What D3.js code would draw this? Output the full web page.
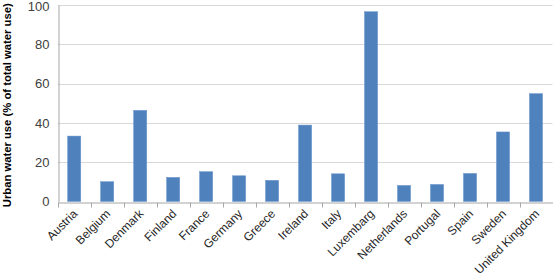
<!DOCTYPE html>
<html><head><meta charset="utf-8">
<script src="https://cdn.jsdelivr.net/npm/d3@7"></script>
<style>body{margin:0;background:#fff;} text{font-family:"Liberation Sans","Open Sans",sans-serif;}</style>
</head><body>
<svg id="c" width="553" height="276"></svg>
<script>
const categories = ["Austria","Belgium","Denmark","Finland","France","Germany","Greece","Ireland","Italy","Luxembarg","Netherlands","Portugal","Spain","Sweden","United Kingdom"];
const values = [33.3,10.1,46.4,12.3,15.2,13.1,10.8,38.9,14.1,96.6,8.2,8.7,14.3,35.4,54.9];
const yTicks = [0,20,40,60,80,100];
const yLabel = "Urban water use (% of total water use)";

const svg = d3.select("#c");
const m = {l:57.7, r:0.5, t:5, b:74.5};
const W = 553, H = 276;
const x = d3.scaleBand().domain(categories).range([m.l, W - m.r]).paddingInner(0.6).paddingOuter(0.3);
const xb = d3.scaleBand().domain(categories).range([m.l, W - m.r]);
const y = d3.scaleLinear().domain([0,100]).range([H - m.b, m.t]);

// gridlines
svg.append("g").selectAll("line").data(yTicks.filter(d=>d>0)).join("line")
  .attr("x1", m.l).attr("x2", W - m.r)
  .attr("y1", d=>Math.round(y(d))+0.5).attr("y2", d=>Math.round(y(d))+0.5)
  .attr("stroke", "#d9d9d9").attr("stroke-width", 1);

// bars
svg.append("g").selectAll("rect").data(values).join("rect")
  .attr("x", (d,i)=>x(categories[i]))
  .attr("width", x.bandwidth())
  .attr("y", d=>y(d))
  .attr("height", d=>y(0)-y(d))
  .attr("fill", "#4f81bd").attr("stroke","#6f9ad0").attr("stroke-width",0.5);

// y axis
const ya = svg.append("g").attr("transform", `translate(${Math.round(m.l)+0.5},0)`)
  .call(d3.axisLeft(y).tickValues(yTicks).tickSize(0).tickPadding(9));
ya.select(".domain").attr("stroke", "#a6a6a6");
ya.selectAll("text").attr("font-size", 13).attr("fill", "#404040");
ya.selectAll(".tick").filter(d=>d===100).select("text").attr("dy","0.45em");

// x axis
const xa = svg.append("g").attr("transform", `translate(0,${Math.round(y(0))+0.5})`)
  .call(d3.axisBottom(xb).tickSize(0).tickFormat(""));
xa.select(".domain").attr("stroke", "#a6a6a6");
// tick marks at band boundaries
svg.append("g").selectAll("line").data(categories.concat(["__end"])).join("line")
  .attr("x1", (d,i)=> Math.round(i<categories.length ? xb(d) : W - m.r)+0.5)
  .attr("x2", (d,i)=> Math.round(i<categories.length ? xb(d) : W - m.r)+0.5)
  .attr("y1", Math.round(y(0))+0.5).attr("y2", Math.round(y(0))+5.5)
  .attr("stroke", "#a6a6a6");

// x labels
svg.append("g").selectAll("text").data(categories).join("text")
  .attr("transform", d=>`translate(${xb(d)+xb.bandwidth()/2+1},${y(0)+10}) rotate(-45)`)
  .attr("text-anchor","end").attr("dy","0.35em")
  .attr("font-size", 12).attr("fill","#262626").text(d=>d);

// y label
svg.append("text")
  .attr("transform", `translate(11,${(y(0)+y(100))/2+2}) rotate(-90)`)
  .attr("text-anchor","middle").attr("font-weight","bold")
  .attr("textLength", 204).attr("lengthAdjust","spacingAndGlyphs")
  .attr("font-size", 11.5).attr("fill","#000").text(yLabel);
</script>
</body></html>
